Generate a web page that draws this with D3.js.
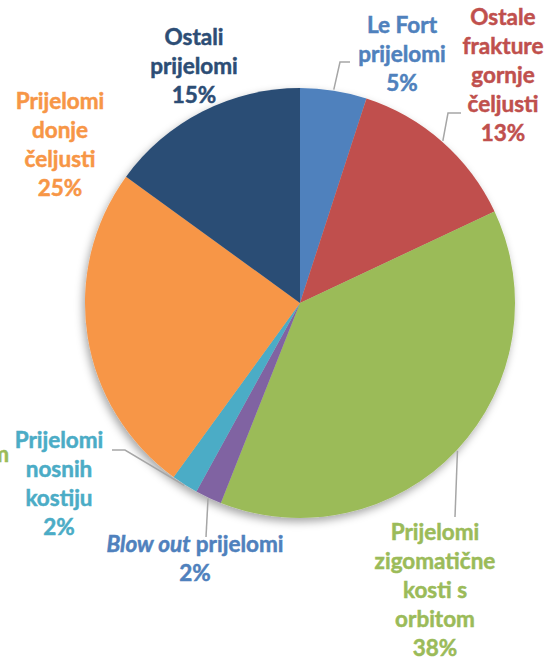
<!DOCTYPE html>
<html>
<head>
<meta charset="utf-8">
<script src="https://cdn.jsdelivr.net/npm/d3@7"></script>
<style>
  body { margin: 0; background: #fff; }
  svg { display: block; }
  text { font-family: Lato, "Open Sans", sans-serif; font-weight: bold; font-size: 22.5px; }
</style>
</head>
<body>
<div id="chart"></div>
<script>
// Slices, clockwise from 12 o'clock
const categories = ["Le Fort prijelomi", "Ostale frakture gornje čeljusti", "Prijelomi zigomatične kosti s orbitom",
                    "Blow out prijelomi", "Prijelomi nosnih kostiju", "Prijelomi donje čeljusti", "Ostali prijelomi"];
const values = [5, 13, 38, 2, 2, 25, 15];
const sliceColors = ["#4F81BD", "#C0504D", "#9BBB59", "#8064A2", "#4BACC6", "#F79646", "#2C4D75"];
const labelColors = ["#4F81BD", "#C0504D", "#9BBB59", "#4F81BD", "#4BACC6", "#F79646", "#2C4D75"];
const labelLines = [
  ["Le Fort", "prijelomi"],
  ["Ostale", "frakture", "gornje", "čeljusti"],
  ["Prijelomi", "zigomatične", "kosti s", "orbitom"],
  ["Blow out prijelomi"],
  ["Prijelomi", "nosnih", "kostiju"],
  ["Prijelomi", "donje", "čeljusti"],
  ["Ostali", "prijelomi"]
];

// layout
const W = 552, H = 662;
const cx = 300, cy = 303, R = 215, lineH = 29;
// label anchor (center x, first baseline) and leader elbow points
const labelPos = [[402, 33], [503, 25], [435, 540], [195, 552], [59, 448], [60, 109], [194, 45]];
const leaders = [
  [[340, 62], [350, 62]],
  [[448, 113], [461, 113]],
  [[455, 517]],
  [[206, 537]],
  [[125, 450], [112, 450]],
  null,
  null
];

const svg = d3.select("#chart").append("svg")
  .attr("width", W).attr("height", H);

const defs = svg.append("defs");
const f = defs.append("filter").attr("id", "shadow")
  .attr("x", "-20%").attr("y", "-20%").attr("width", "140%").attr("height", "140%");
f.append("feDropShadow").attr("dx", -2).attr("dy", 4).attr("stdDeviation", 4)
  .attr("flood-color", "#000").attr("flood-opacity", 0.35);

const data = categories.map((c, i) => ({ cat: c, value: values[i], i }));

const pie = d3.pie().sort(null).value(d => d.value);
const arcs = pie(data);
const arc = d3.arc().innerRadius(0).outerRadius(R);

const g = svg.append("g").attr("transform", `translate(${cx},${cy})`);
g.append("g").attr("filter", "url(#shadow)")
  .selectAll("path").data(arcs).join("path")
  .attr("d", arc)
  .attr("fill", d => sliceColors[d.data.i]);

// leader lines
arcs.forEach(a => {
  const pts = leaders[a.data.i];
  if (!pts) return;
  const mid = (a.startAngle + a.endAngle) / 2;
  const start = [cx + (R + 1) * Math.sin(mid), cy - (R + 1) * Math.cos(mid)];
  svg.append("path")
    .attr("d", d3.line()([start, ...pts]))
    .attr("fill", "none")
    .attr("stroke", "#A6A6A6")
    .attr("stroke-width", 1.5);
});

// labels
arcs.forEach(a => {
  const i = a.data.i;
  const [lx, ly] = labelPos[i];
  const t = svg.append("text")
    .attr("text-anchor", "middle")
    .attr("fill", labelColors[i])
    .attr("stroke", labelColors[i])
    .attr("stroke-width", 0.5);
  const lines = labelLines[i].concat([values[i] + "%"]);
  lines.forEach((ln, k) => {
    const ts = t.append("tspan").attr("x", lx).attr("y", ly + k * lineH);
    if (ln === "Blow out prijelomi") {
      ts.append("tspan").attr("font-style", "italic").text("Blow out");
      ts.append("tspan").text(" prijelomi");
    } else {
      ts.text(ln);
    }
  });
});

// clipped fragment of an overflowing label at the left edge
svg.append("text")
  .attr("x", 9).attr("y", 462)
  .attr("text-anchor", "end")
  .attr("fill", "#9BBB59")
  .attr("stroke", "#9BBB59")
  .attr("stroke-width", 0.5)
  .text("orbitom");
</script>
</body>
</html>
